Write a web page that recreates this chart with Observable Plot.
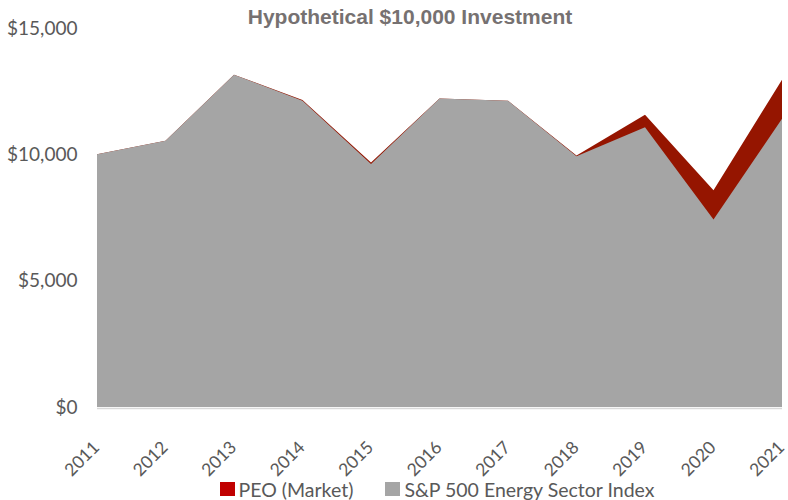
<!DOCTYPE html>
<html>
<head>
<meta charset="utf-8">
<script src="https://cdn.jsdelivr.net/npm/d3@7"></script>
<script src="https://cdn.jsdelivr.net/npm/@observablehq/plot@0.6"></script>
<style>
  body { margin: 0; background: #fff; }
  #wrap { position: relative; width: 788px; height: 500px; font-family: Lato, "Open Sans", sans-serif; }
  #title { position: absolute; left: 0; width: 820px; top: 5px; text-align: center; font-family: "Liberation Sans", Arial, sans-serif; font-weight: bold; font-size: 21px; color: #767171; white-space: nowrap; }
  #legend { position: absolute; left: 0; width: 874px; top: 477px; text-align: center; font-size: 19.5px; color: #595959; white-space: nowrap; }
  .item { display: inline-flex; align-items: center; margin: 0 16px; }
  .sw { display: inline-block; width: 15px; height: 14px; margin-right: 4px; }
</style>
</head>
<body>
<div id="wrap">
  <div id="chart"></div>
  <div id="title">Hypothetical $10,000 Investment</div>
  <div id="legend"></div>
</div>
<script>
const years = [2011, 2012, 2013, 2014, 2015, 2016, 2017, 2018, 2019, 2020, 2021];
const peoMarket = [10000, 10540, 13150, 12150, 9680, 12210, 12120, 9950, 11570, 8580, 12950];
const spEnergy  = [10000, 10540, 13150, 12120, 9620, 12210, 12120, 9920, 11070, 7420, 11410];
const yTicks = [0, 5000, 10000, 15000];
const seriesNames = ["PEO (Market)", "S&P 500 Energy Sector Index"];
const seriesColors = ["#951500", "#a5a5a5"];
const legendColors = ["#c00000", "#a5a5a5"];

const peoData = years.map((y, i) => ({year: y, value: peoMarket[i]}));
const spData = years.map((y, i) => ({year: y, value: spEnergy[i]}));

const chart = Plot.plot({
  width: 788,
  height: 470,
  marginTop: 28,
  marginBottom: 63,
  marginLeft: 97,
  marginRight: 6,
  style: {fontFamily: "Lato, 'Open Sans', sans-serif", fontSize: "19px", color: "#595959", overflow: "visible"},
  x: {domain: [2011, 2021], axis: null},
  y: {domain: [0, 15000]},
  marks: [
    Plot.areaY(peoData, {x: "year", y: "value", fill: seriesColors[0]}),
    Plot.areaY(spData, {x: "year", y: "value", fill: seriesColors[1]}),
    Plot.ruleY([0], {stroke: "#d9d9d9", strokeWidth: 1.5, dy: 1}),
    Plot.axisY({ticks: yTicks, tickFormat: d => "$" + d3.format(",")(d), tickSize: 0, tickPadding: 20, fill: "#595959", label: null}),
    Plot.text(years, {x: d => d, y: () => 0, text: d => String(d), rotate: -45, textAnchor: "end", lineAnchor: "middle", dx: -1, dy: 37, fill: "#595959", fontSize: 17.5})
  ]
});
document.getElementById("chart").appendChild(chart);

const legend = document.getElementById("legend");
seriesNames.forEach((name, i) => {
  const item = document.createElement("span");
  item.className = "item";
  const sw = document.createElement("span");
  sw.className = "sw";
  sw.style.background = legendColors[i];
  item.appendChild(sw);
  item.appendChild(document.createTextNode(name));
  legend.appendChild(item);
});
</script>
</body>
</html>
